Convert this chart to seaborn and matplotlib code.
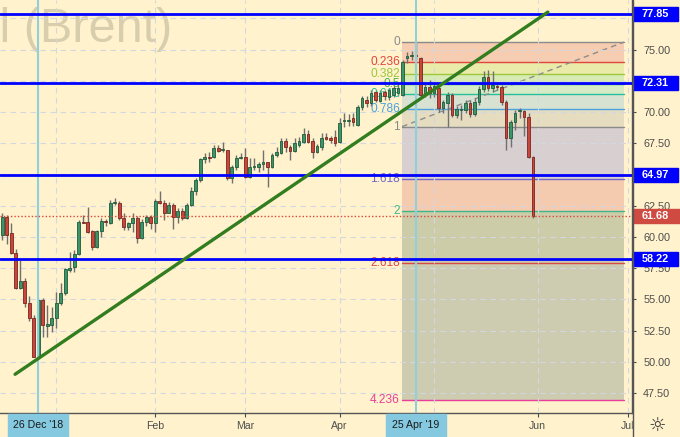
import numpy as np
import pandas as pd
import seaborn as sns
import matplotlib.pyplot as plt
import matplotlib.transforms as mtransforms
from matplotlib.patches import Rectangle
from matplotlib.lines import Line2D

sns.set_style("white")
plt.rcParams["font.family"] = ["Liberation Sans", "DejaVu Sans"]

BG = "#fff2cc"

# trading days (exchange holidays removed), first candle is 13 Dec 2018
holidays = pd.to_datetime(["2018-12-25", "2019-01-01", "2019-04-19"])
all_days = pd.bdate_range("2018-12-13", "2019-07-10")
all_days = all_days[~all_days.isin(holidays)]

# daily OHLC
opens = [60.15, 61.62, 60.29, 58.74, 55.94, 56.47, 54.68, 53.53,
         50.41, 54.95, 52.90, 52.95, 53.48, 54.73, 55.53, 57.35, 57.56, 58.63,
         61.22, 61.17, 60.47, 59.17, 60.47, 61.27, 61.14, 62.70, 62.74, 61.49,
         60.82, 61.09, 61.49, 59.89, 61.17, 61.62, 61.09, 62.87, 62.69, 61.94,
         62.56, 61.57, 62.10, 61.49, 62.56, 63.68, 64.56, 66.21, 66.43, 66.37,
         67.14, 66.93, 66.96, 64.69, 65.62, 66.29, 66.42, 64.77, 65.60, 65.57,
         65.84, 66.03, 65.57, 66.56, 66.75, 67.71, 67.17, 66.91, 67.36, 67.63,
         68.24, 67.71, 66.83, 67.17, 67.97, 67.90, 67.97, 67.63, 69.30, 69.30,
         69.50, 68.96, 70.40, 71.00, 70.70, 71.60, 70.90, 71.60, 71.20, 71.40,
         71.50, 71.40, 74.30, 74.50, 74.60, 74.30, 71.50, 71.98, 71.50, 71.90,
         70.30, 70.75, 71.36, 69.76, 70.15, 70.16, 70.75, 69.84, 70.83, 71.82,
         72.78, 71.90, 72.10, 71.98, 70.83, 67.90, 69.23, 70.05, 70.11, 69.63,
         66.37]
highs = [61.90, 61.75, 61.10, 59.00, 58.15, 56.70, 55.27, 53.75,
         55.08, 55.08, 54.55, 54.40, 55.60, 56.28, 57.48, 58.82, 58.95, 61.35,
         61.75, 62.42, 60.55, 60.55, 61.50, 61.45, 62.95, 63.10, 62.85, 61.90,
         61.20, 61.90, 61.70, 61.40, 61.75, 61.75, 63.00, 63.67, 62.95, 62.82,
         62.70, 62.30, 62.30, 62.70, 64.00, 64.70, 66.30, 66.75, 66.82, 67.35,
         67.35, 67.60, 66.96, 65.76, 66.56, 66.70, 67.10, 66.30, 66.30, 66.03,
         66.96, 66.03, 66.70, 67.23, 67.90, 67.90, 67.36, 67.90, 68.03, 68.70,
         68.56, 67.90, 67.45, 68.30, 68.35, 68.10, 68.60, 69.50, 69.95, 69.85,
         69.90, 70.55, 71.30, 71.30, 71.80, 71.80, 71.80, 71.80, 71.90, 72.20,
         72.30, 74.20, 74.80, 74.90, 75.60, 74.40, 72.30, 72.60, 72.30, 72.10,
         71.00, 71.60, 71.50, 70.50, 70.60, 71.00, 71.00, 71.10, 72.10, 73.30,
         73.40, 73.30, 72.40, 72.20, 71.00, 69.40, 70.20, 70.35, 70.20, 69.90,
         66.50]
lows = [59.75, 59.40, 58.60, 55.80, 55.80, 54.40, 53.30, 50.35,
        50.27, 52.00, 52.00, 52.40, 52.70, 54.55, 55.35, 57.22, 57.20, 58.55,
        61.10, 60.28, 58.95, 59.08, 60.02, 60.85, 61.00, 62.55, 61.35, 60.55,
        60.55, 60.40, 59.50, 59.80, 60.85, 60.60, 60.40, 62.60, 61.35, 61.90,
        60.60, 61.10, 61.35, 61.40, 62.48, 63.35, 64.40, 65.90, 66.00, 66.30,
        66.83, 66.83, 64.56, 64.30, 65.36, 66.20, 64.69, 64.69, 65.35, 65.22,
        65.36, 64.02, 65.50, 66.43, 66.64, 66.83, 66.16, 66.83, 67.23, 67.49,
        67.49, 66.30, 66.70, 66.96, 67.75, 67.50, 67.30, 67.55, 68.80, 68.90,
        68.90, 68.90, 70.20, 70.40, 70.50, 70.80, 70.80, 71.00, 71.00, 71.20,
        71.30, 71.30, 73.90, 74.20, 74.20, 71.20, 71.20, 71.10, 71.20, 70.00,
        69.90, 68.83, 69.60, 69.50, 69.40, 69.90, 69.60, 69.70, 70.60, 71.60,
        71.70, 71.60, 71.80, 70.60, 66.96, 67.20, 68.60, 69.50, 68.10, 66.30,
        61.55]
closes = [61.62, 60.15, 58.69, 55.94, 56.47, 54.68, 53.48, 50.41,
          54.95, 52.95, 53.00, 53.53, 54.73, 55.53, 57.40, 57.55, 58.63, 61.22,
          61.14, 60.42, 59.17, 60.47, 61.27, 61.17, 62.69, 62.80, 61.49, 60.82,
          61.09, 61.49, 59.89, 61.17, 61.62, 61.09, 62.88, 62.69, 61.94, 62.56,
          61.57, 62.10, 61.49, 62.56, 63.68, 64.56, 66.21, 66.37, 66.35, 67.09,
          66.91, 67.02, 64.69, 65.62, 66.29, 66.37, 64.77, 65.57, 65.70, 65.84,
          66.03, 65.57, 66.56, 66.83, 67.71, 67.17, 66.91, 67.49, 67.71, 68.24,
          67.63, 66.83, 67.30, 67.89, 67.81, 67.76, 67.55, 69.15, 69.40, 69.36,
          69.23, 70.43, 71.10, 70.75, 71.50, 71.00, 71.50, 71.30, 71.80, 71.90,
          71.90, 74.00, 74.50, 74.60, 74.45, 71.40, 72.00, 71.55, 72.10, 70.30,
          70.80, 71.36, 69.76, 70.22, 70.25, 70.75, 69.84, 70.83, 71.82, 72.78,
          71.90, 72.20, 72.00, 70.83, 67.90, 69.23, 69.95, 70.15, 69.63, 66.37,
          61.68]

# horizontal levels, last price, trend line, fibonacci
levels = [77.85, 72.31, 64.97, 58.22]
last_price = 61.68
trend_x = [2.9, 121.3]
trend_y = [49.0, 78.0]
fib_top = 75.60
fib_bottom = 68.83
fib_x = [88.9, 138.2]
fib_ratios = [0, 0.236, 0.382, 0.5, 0.618, 0.786, 1, 1.618, 2, 2.618, 4.236]
fib_labels = ["0", "0.236", "0.382", "0.5", "0.618", "0.786", "1", "1.618", "2", "2.618", "4.236"]
fib_line_colors = ["#8a8a8a", "#e0463c", "#9cc83c", "#4caf50", "#26c09a", "#4aa3df",
                   "#8a8a8a", "#7266c8", "#3fb58a", "#d84a4a", "#e8409a"]
fib_fill_colors = ["#f6cdb0", "#eaeaa9", "#d8ebb5", "#d5ebc6", "#d8e2d3",
                   "#e6dcc0", "#d7cfd0", "#f5cbb0", "#cccca8", "#cdcbb0"]
marked_days = ["2018-12-26", "2019-04-25"]
marked_labels = ["26 Dec '18", "25 Apr '19"]

df = pd.DataFrame({"open": opens, "high": highs, "low": lows, "close": closes})
df["date"] = all_days[: len(df)]
df["x"] = np.arange(len(df))

fig = plt.figure(figsize=(6.8, 4.37), dpi=100, facecolor=BG)
ax = fig.add_axes([0, 24 / 437, 632 / 680, 413 / 437])
ax.set_facecolor(BG)
ax.set_xlim(-0.45, 140.0)
ax.set_ylim(45.90, 78.97)

# watermark
ax.text(172 / 632, 1 - 42 / 413, "Crude Oil (Brent)", transform=ax.transAxes,
        ha="right", va="baseline", fontsize=35, color="#d8ceae", zorder=0.5, clip_on=True)

# fibonacci zones
fx = np.array(fib_x)
fib_prices = [fib_top - r * (fib_top - fib_bottom) for r in fib_ratios]
for i in range(len(fib_prices) - 1):
    ax.fill_between(fx, fib_prices[i + 1], fib_prices[i], color=fib_fill_colors[i],
                    lw=0, zorder=1)
for p, lab, col in zip(fib_prices, fib_labels, fib_line_colors):
    ax.plot(fx, [p, p], color=col, lw=1, zorder=2)
    ax.text(fx[0] - 0.5, p, lab, color=col, fontsize=8.6, ha="right", va="center", zorder=4)
sns.lineplot(x=[fx[0], fx[1]], y=[fib_bottom, fib_top], ax=ax, color="#8c8c8c",
             lw=1, linestyle=(0, (4, 3)), zorder=2)

# candles
up = df["close"] >= df["open"]
body_lo = np.minimum(df["open"], df["close"])
body_h = np.maximum((df["close"] - df["open"]).abs(), 0.07)
ax.vlines(df["x"], df["low"], df["high"], color="#707070", lw=1, zorder=3)
ax.bar(df["x"][up], body_h[up], bottom=body_lo[up], width=0.66, color="#3d9468",
       edgecolor="#1f5a3b", lw=0.6, zorder=4)
ax.bar(df["x"][~up], body_h[~up], bottom=body_lo[~up], width=0.66, color="#c9463b",
       edgecolor="#7a2520", lw=0.6, zorder=4)

# marked days (vertical lines)
day_pos = {d: i for i, d in enumerate(all_days)}
mark_x = [day_pos[pd.Timestamp(d)] for d in marked_days]
for mx in mark_x:
    ax.axvline(mx, color="#8fd0dc", lw=1.5, zorder=4.5)

# horizontal lines
for lvl in levels:
    ax.axhline(lvl, color="#0000ff", lw=2, zorder=5)
ax.axhline(last_price, color="#d9473d", lw=1, linestyle=(0, (1, 1.5)), zorder=5)

# trend line
sns.lineplot(x=trend_x, y=trend_y, ax=ax, color="#327d1f", lw=2.4, zorder=6)
ax.set_xlabel("")
ax.set_ylabel("")

# axes, ticks, grid
month_first = pd.Series(np.arange(len(all_days)), index=all_days).groupby(all_days.to_period("M")).first()
month_first = month_first[month_first.index >= pd.Period("2019-01", "M")]
tick_lab = {"Jan": "", "May": ""}
ax.set_xticks(month_first.values)
ax.set_xticklabels([tick_lab.get(p.strftime("%b"), p.strftime("%b")) for p in month_first.index])
yt = np.arange(47.5, 77.6, 2.5)
ax.yaxis.tick_right()
ax.set_yticks(yt)
# labels hidden under the level boxes are left blank
ax.set_yticklabels(["" if min(abs(v - l) for l in levels) < 0.45 else f"{v:.2f}" for v in yt])
ax.tick_params(axis="y", colors="#4d4d4d", labelsize=7.8, length=3, pad=5, direction="out",
               right=True, left=False)
ax.tick_params(axis="x", colors="#4d4d4d", labelsize=7.6, length=3, pad=3, direction="out",
               bottom=True)
ax.grid(True, color="#d3d8e0", lw=0.8, linestyle=(0, (5, 4)))
ax.set_axisbelow(False)
for s in ["top", "left"]:
    ax.spines[s].set_visible(False)
for s in ["right", "bottom"]:
    ax.spines[s].set_color("#555555")
    ax.spines[s].set_linewidth(1)

# right-hand price labels
ty = mtransforms.blended_transform_factory(ax.transAxes, ax.transData)
for lvl in levels:
    ax.add_patch(Rectangle((1.0015, lvl - 0.55), 45 / 632, 1.1, transform=ty,
                           color="#0000ff", clip_on=False, zorder=10))
    ax.text(1 + 23 / 632, lvl, f"{lvl:.2f}", transform=ty, color="white", fontsize=7.8,
            fontweight="bold", ha="center", va="center", clip_on=False, zorder=11)
ax.add_patch(Rectangle((1.0015, last_price - 0.55), 48 / 632, 1.1, transform=ty,
                       color="#cf4b41", clip_on=False, zorder=10))
ax.text(1 + 23 / 632, last_price, f"{last_price:.2f}", transform=ty, color="white",
        fontsize=7.8, fontweight="bold", ha="center", va="center", clip_on=False, zorder=11)

# bottom date labels for marked days
tx = mtransforms.blended_transform_factory(ax.transData, ax.transAxes)
for mx, lab in zip(mark_x, marked_labels):
    ax.add_patch(Rectangle((mx - 6.7, -24 / 413), 13.4, 23 / 413, transform=tx,
                           color="#84c9df", clip_on=False, zorder=10))
    ax.text(mx, -12 / 413, lab, transform=tx, color="#1a1a1a", fontsize=7.6,
            ha="center", va="center", clip_on=False, zorder=11)

# right lower corner
fig.patches.append(Rectangle((633 / 680, 0), 47 / 680, 23.5 / 437, transform=fig.transFigure,
                             color=BG, zorder=5))
fig.lines.append(Line2D([632.5 / 680, 632.5 / 680], [0, 1], transform=fig.transFigure,
                        color="#555555", lw=1, zorder=6))
fig.text(657 / 680, 12 / 437, "\u263c", family="DejaVu Sans", fontsize=14, color="#333333",
         ha="center", va="center", zorder=7)

fig.savefig("out.png", dpi=100, facecolor=BG)
